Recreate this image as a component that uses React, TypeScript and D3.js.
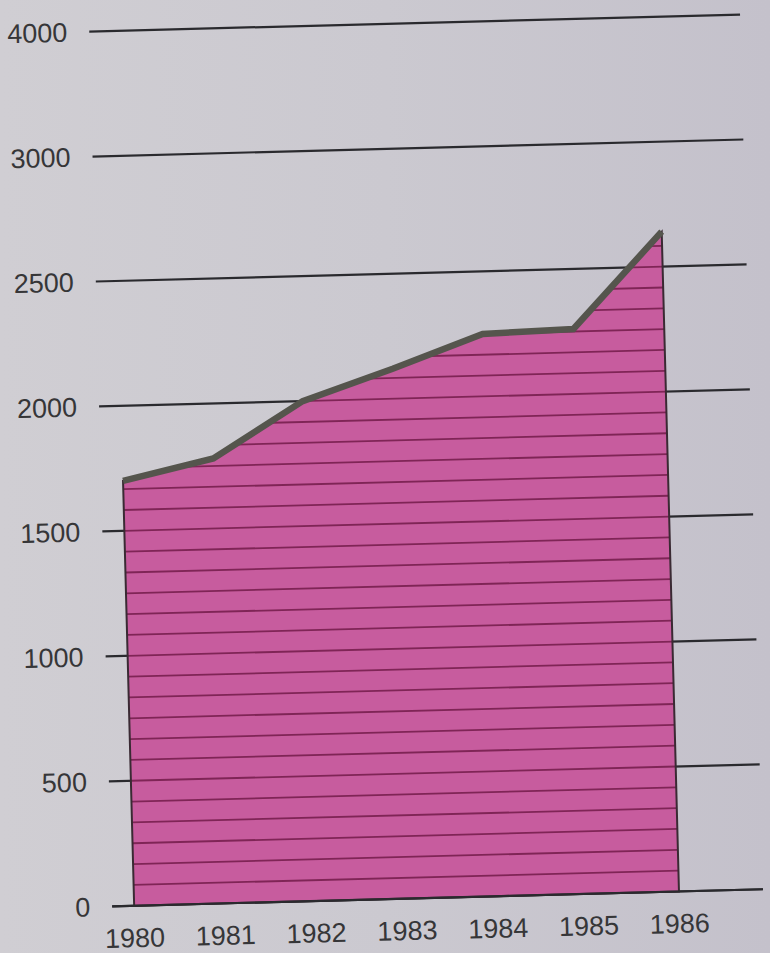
import React from 'react';
import * as d3 from 'd3';

const years = ['1980', '1981', '1982', '1983', '1984', '1985', '1986'];
const values = [1700, 1780, 2000, 2120, 2250, 2260, 2640];
const yTicks = [0, 500, 1000, 1500, 2000, 2500, 3000, 4000];
const stripeStep = 500 / 6;

const W = 770;
const H = 953;
const Y0 = 899;
const STEP = 125;

export default function App() {
  const x = d3.scalePoint<string>().domain(years).range([123, 668]);
  const y = d3
    .scaleLinear()
    .domain(yTicks)
    .range(yTicks.map((_, i) => Y0 - i * STEP));

  const pts: [number, number][] = years.map((yr, i) => [x(yr) as number, y(values[i])]);
  const areaGen = d3
    .area<[number, number]>()
    .x((d) => d[0])
    .y0(y(0))
    .y1((d) => d[1]);
  const lineGen = d3
    .line<[number, number]>()
    .x((d) => d[0])
    .y((d) => d[1]);
  const areaPath = areaGen(pts) || '';
  const linePath = lineGen(pts) || '';
  const maxV = d3.max(values) as number;
  const stripes = d3.range(stripeStep, maxV, stripeStep);
  const xL = x(years[0]) as number;
  const xR = x(years[years.length - 1]) as number;

  const font = "'Liberation Sans', Arial, Helvetica, sans-serif";

  return (
    <svg
      width={W}
      height={H}
      style={{ position: 'absolute', left: 0, top: 0, display: 'block' }}
    >
      <defs>
        <linearGradient id="bg" x1="0" y1="0" x2="1" y2="0">
          <stop offset="0" stopColor="#d0ced3" />
          <stop offset="0.5" stopColor="#cbc9d0" />
          <stop offset="1" stopColor="#c4c1cb" />
        </linearGradient>
        <clipPath id="areaClip">
          <path d={areaPath} />
        </clipPath>
      </defs>
      <rect x={0} y={0} width={W} height={H} fill="url(#bg)" />
      <g transform="rotate(-1.5, 385, 476)">
        {yTicks.map((t) => (
          <line
            key={'g' + t}
            x1={101}
            x2={752}
            y1={y(t)}
            y2={y(t)}
            stroke="#2a2a2e"
            strokeWidth={2.2}
          />
        ))}
        <path d={areaPath} fill="#c75c9e" />
        <g clipPath="url(#areaClip)">
          {stripes.map((s) => (
            <line
              key={'s' + s}
              x1={xL}
              x2={xR}
              y1={y(s)}
              y2={y(s)}
              stroke="#7f2556"
              strokeWidth={1.8}
            />
          ))}
        </g>
        <path d={areaPath} fill="none" stroke="#3a2a33" strokeWidth={2} />
        <line x1={101} x2={752} y1={y(0)} y2={y(0)} stroke="#2a2a2e" strokeWidth={2.2} />
        <path
          d={linePath}
          fill="none"
          stroke="#55554d"
          strokeWidth={6.5}
          strokeLinejoin="miter"
          strokeLinecap="butt"
        />
        {yTicks.map((t) => (
          <text
            key={'yl' + t}
            x={79}
            y={y(t)}
            dy="0.35em"
            textAnchor="end"
            fontFamily={font}
            fontSize={27}
            fill="#363638"
          >
            {t}
          </text>
        ))}
        {years.map((yr) => (
          <text
            key={'xl' + yr}
            x={x(yr) as number}
            y={y(0) + 32}
            dy="0.35em"
            textAnchor="middle"
            fontFamily={font}
            fontSize={27}
            fill="#363638"
          >
            {yr}
          </text>
        ))}
      </g>
    </svg>
  );
}
